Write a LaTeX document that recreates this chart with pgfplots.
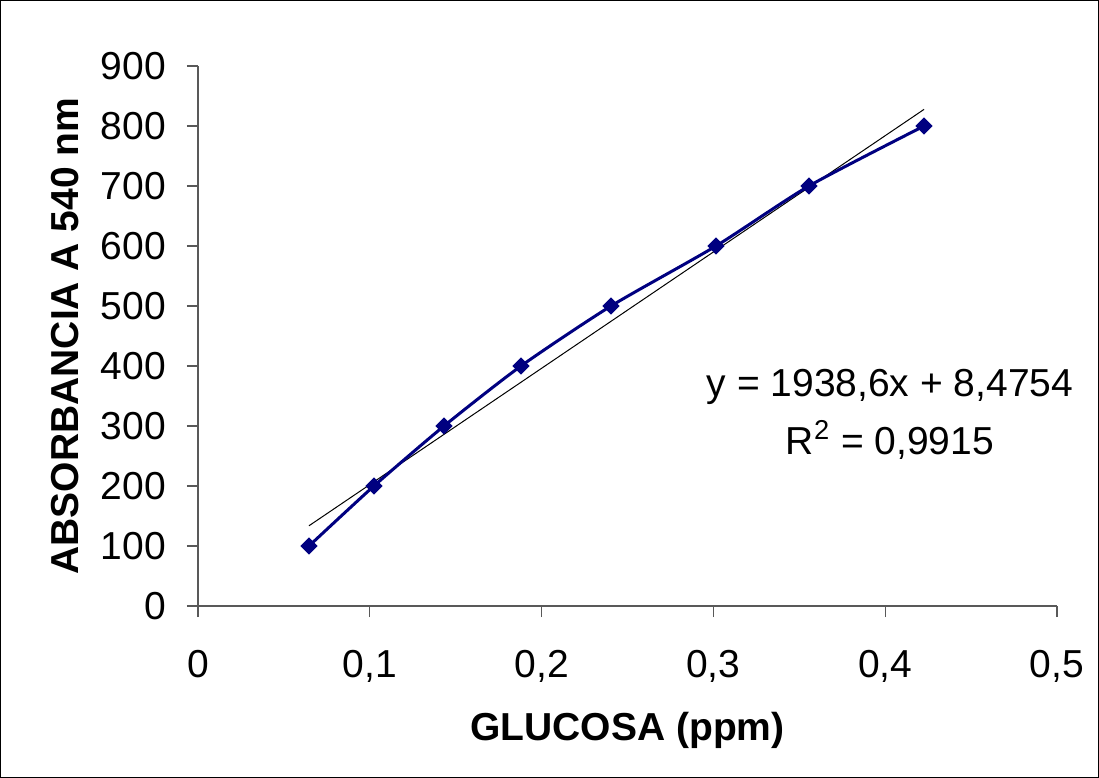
\documentclass[border=0pt]{standalone}
\usepackage{fontspec}
\setmainfont{Liberation Sans}
\usepackage{pgfplots}
\pgfplotsset{compat=1.18}
\definecolor{navyblue}{RGB}{0,0,128}
\newcommand{\chartfont}{\fontsize{19.5bp}{23bp}\selectfont}
\begin{document}
\begin{tikzpicture}
\begin{axis}[
  at={(0,0)}, anchor=south west,
  scale only axis, width=429.5bp, height=270bp,
  xmin=0, xmax=0.5, ymin=0, ymax=900,
  axis lines=left,
  axis line style={-, black!65, line width=0.6bp},
  xtick={0,0.1,0.2,0.3,0.4,0.5},
  xticklabels={0,{0,1},{0,2},{0,3},{0,4},{0,5}},
  ytick={0,100,200,300,400,500,600,700,800,900},
  /pgf/number format/assume math mode=true,
  tick align=outside, major tick length=5.5bp,
  tick style={black!65, line width=0.6bp},
  ticklabel style={font=\chartfont},
  xticklabel style={yshift=-13bp},
  yticklabel style={xshift=-7bp},
  xlabel={\bfseries GLUCOSA (ppm)},
  ylabel={\bfseries ABSORBANCIA A 540 nm},
  label style={font=\chartfont},
  xlabel style={at={(axis description cs:0.5,-0.2296)}, anchor=center},
  ylabel style={at={(axis description cs:-0.1548,0.5)}, anchor=center},
  clip=false,
]
\addplot[black, line width=0.5bp] coordinates {(0.0646,133.7) (0.4226,827.7)};
\addplot[navyblue, line width=1.5bp, smooth, tension=0.4, mark=square*,
  mark size=2.8bp, mark options={rotate=45, fill=navyblue, line width=0.5bp}]
  coordinates {
  (0.0646,100) (0.1024,200) (0.1432,300) (0.1880,400)
  (0.2404,500) (0.3015,600) (0.3556,700) (0.4226,800)
  };
\node[font=\chartfont] at (axis cs:0.4028,365) {y = 1938,6x + 8,4754};
\node[font=\chartfont] at (axis cs:0.4028,276.7) {R\textsuperscript{2} = 0,9915};
\end{axis}
\draw[line width=0.5bp] (-98.75bp,-85.75bp) rectangle (450.25bp,302.75bp);
\end{tikzpicture}
\end{document}
